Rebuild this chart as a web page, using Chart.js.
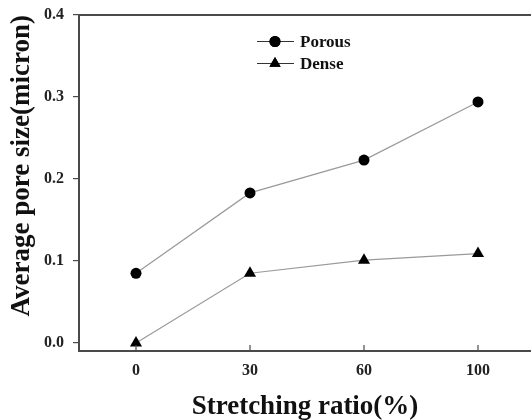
<!DOCTYPE html>
<html>
<head>
<meta charset="utf-8">
<script src="https://cdn.jsdelivr.net/npm/chart.js@4/dist/chart.umd.min.js"></script>
<style>
    html, body { margin: 0; padding: 0; background: #fff; overflow: hidden; }
    #wrap { width: 531px; height: 420px; }
</style>
</head>
<body>
<div id="wrap"><canvas id="grafica" width="531" height="420"></canvas></div>
<script>
// Datos
const categorias = ["0", "30", "60", "100"];
const porous = [0.085, 0.183, 0.223, 0.294];
const dense = [0.0, 0.085, 0.101, 0.109];
const yTicks = [0.0, 0.1, 0.2, 0.3, 0.4];

const serif = "'Liberation Serif', 'Times New Roman', serif";
const ejeColor = "#4a4a4a";

// Marco superior, ticks interiores del eje x y leyenda
const extras = {
    id: "extras",
    afterDraw(chart) {
        const { ctx, chartArea, scales } = chart;
        ctx.save();
        ctx.strokeStyle = ejeColor;
        ctx.lineWidth = 2;
        ctx.beginPath();
        ctx.moveTo(chartArea.left - 1, chartArea.top);
        ctx.lineTo(chartArea.right, chartArea.top);
        ctx.stroke();

        ctx.lineWidth = 1.2;
        categorias.forEach((c, i) => {
            const x = scales.x.getPixelForValue(i);
            ctx.beginPath();
            ctx.moveTo(x, chartArea.bottom);
            ctx.lineTo(x, chartArea.bottom - 6);
            ctx.stroke();
        });

        // Leyenda
        const items = [
            { label: "Porous", style: "circle", radius: 5.5, y: 41.5 },
            { label: "Dense", style: "triangle", radius: 6.5, y: 63.5 }
        ];
        ctx.font = "bold 17px " + serif;
        ctx.textBaseline = "middle";
        items.forEach(it => {
            ctx.strokeStyle = "#333";
            ctx.lineWidth = 1;
            ctx.beginPath();
            ctx.moveTo(257, it.y);
            ctx.lineTo(294, it.y);
            ctx.stroke();
            ctx.fillStyle = "#000";
            Chart.helpers.drawPoint(ctx, { pointStyle: it.style, radius: it.radius, borderWidth: 0 }, 275, it.y);
            ctx.fill();
            ctx.fillStyle = "#111";
            ctx.fillText(it.label, 300, it.y + 1);
        });
        ctx.restore();
    }
};

const toPoints = arr => arr.map((v, i) => ({ x: i, y: v }));

new Chart(document.getElementById("grafica"), {
    type: "line",
    data: {
        datasets: [{
            label: "Porous",
            data: toPoints(porous),
            borderColor: "#9a9a9a",
            borderWidth: 1.2,
            pointStyle: "circle",
            pointRadius: 5.5,
            pointBackgroundColor: "#000",
            pointBorderColor: "#000",
            pointBorderWidth: 0
        }, {
            label: "Dense",
            data: toPoints(dense),
            borderColor: "#9a9a9a",
            borderWidth: 1.2,
            pointStyle: "triangle",
            pointRadius: 7,
            pointBackgroundColor: "#000",
            pointBorderColor: "#000",
            pointBorderWidth: 0
        }]
    },
    options: {
        responsive: false,
        animation: false,
        devicePixelRatio: 1,
        layout: { autoPadding: false, padding: { top: 15, right: 0, left: 0, bottom: 0 } },
        plugins: {
            legend: { display: false },
            tooltip: { enabled: false }
        },
        scales: {
            x: {
                type: "linear",
                min: -0.5,
                max: 3.465,
                afterBuildTicks: s => { s.ticks = categorias.map((c, i) => ({ value: i })); },
                afterFit: s => { s.height = 69; s.paddingLeft = 0; s.paddingRight = 0; },
                grid: { display: false, drawTicks: false },
                border: { display: true, color: ejeColor, width: 2 },
                ticks: {
                    padding: 10,
                    color: "#222",
                    font: { family: serif, size: 16, weight: "bold" },
                    callback: (v) => categorias[v]
                },
                title: {
                    display: true,
                    text: "Stretching ratio(%)",
                    color: "#111",
                    padding: { top: 0, bottom: -1 },
                    font: { family: serif, size: 27, weight: "bold", lineHeight: 1 }
                }
            },
            y: {
                min: -0.0098,
                max: 0.4,
                afterBuildTicks: s => { s.ticks = yTicks.map(v => ({ value: v })); },
                afterFit: s => { s.width = 79; s.paddingTop = 0; s.paddingBottom = 0; },
                grid: { display: true, drawOnChartArea: false, drawTicks: true, tickLength: 6, color: ejeColor, lineWidth: 1.2 },
                border: { display: true, color: ejeColor, width: 2 },
                ticks: {
                    padding: 9,
                    color: "#222",
                    font: { family: serif, size: 16, weight: "bold" },
                    callback: (v) => v.toFixed(1)
                },
                title: {
                    display: true,
                    text: "Average pore size(micron)",
                    color: "#111",
                    align: "end",
                    padding: { top: 9, bottom: 0 },
                    font: { family: serif, size: 27, weight: "bold", lineHeight: 1 }
                }
            }
        }
    },
    plugins: [extras]
});
</script>
</body>
</html>
